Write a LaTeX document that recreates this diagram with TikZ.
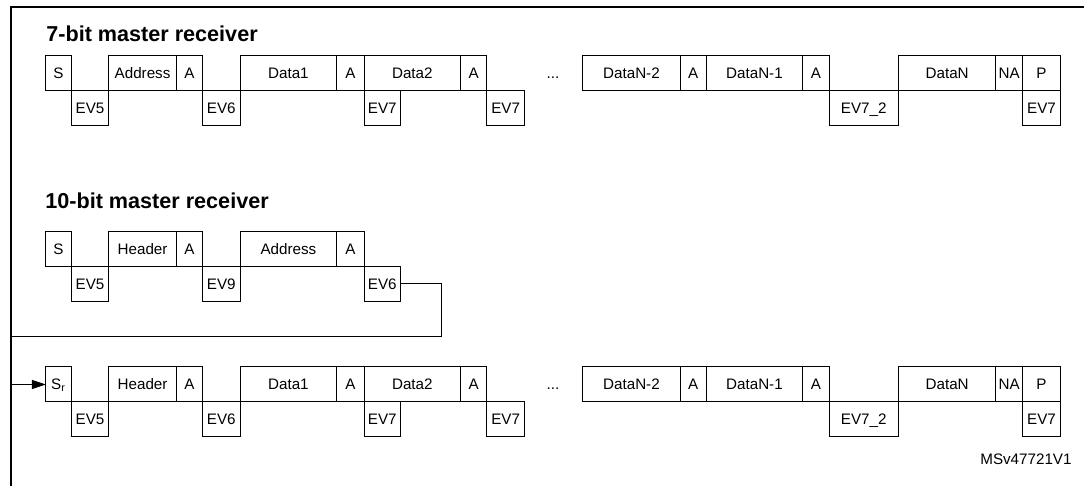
\documentclass[tikz,border=0pt]{standalone}
\usepackage{fontspec}
\setmainfont{Liberation Sans}
\usetikzlibrary{arrows.meta}
\tikzset{
  box/.style={draw=black, line width=0.5pt, inner sep=0pt, outer sep=0pt,
    minimum height=17.5pt, text height=5.4pt, text depth=0pt,
    font=\fontsize{7.6}{9}\selectfont},
  lbl/.style={inner sep=0pt, text height=5.4pt, text depth=0pt,
    font=\fontsize{7.6}{9}\selectfont},
  heading/.style={inner sep=0pt, anchor=base west,
    font=\fontsize{10.8}{12}\selectfont\bfseries},
  frame/.style={line width=1pt, line join=miter},
  conn/.style={line width=0.5pt},
}
\newcommand{\bx}[5]{\node[box, minimum width={(#3-#2)*0.5pt}, anchor=north west] (#1) at (#2,#4) {#5};}
\begin{document}
\begin{tikzpicture}[x=0.5pt, y=-0.5pt]
\useasboundingbox (0,0) rectangle (1084,486);
% frame
\draw[frame] (1084,7.5) -- (10.5,7.5) -- (10.5,486);

% ---------------- 7-bit master receiver ----------------
\node[heading] (t1) at (46,41.5) {7-bit master receiver};
\bx{a1s}{45.8}{71.3}{56}{S}
\bx{a1ev5}{71.3}{108.8}{91}{EV5}
\bx{a1addr}{108.8}{176.3}{56}{Address}
\bx{a1aa}{176.3}{202.5}{56}{A}
\bx{a1ev6}{202.5}{240}{91}{EV6}
\bx{a1d1}{240}{336.8}{56}{Data1}
\bx{a1ab}{336.8}{364}{56}{A}
\bx{a1d2}{364}{460.7}{56}{Data2}
\bx{a1ev7a}{364}{400.5}{91}{EV7}
\bx{a1ac}{460.7}{486.6}{56}{A}
\bx{a1ev7b}{486.6}{524.8}{91}{EV7}
\node[lbl] (a1dots) at (553,73.5) {...};
\bx{a1dn2}{582.7}{680.2}{56}{DataN-2}
\bx{a1ad}{680.2}{706.2}{56}{A}
\bx{a1dn1}{706.2}{802.7}{56}{DataN-1}
\bx{a1ae}{802.7}{829}{56}{A}
\bx{a1ev72}{829}{898.5}{91}{EV7\_2}
\bx{a1dn}{898.5}{995.8}{56}{DataN}
\bx{a1na}{995.8}{1022.5}{56}{NA}
\bx{a1p}{1022.5}{1060.5}{56}{P}
\bx{a1ev7c}{1022.5}{1060.5}{91}{EV7}

% ---------------- 10-bit master receiver ----------------
\node[heading] (t2) at (45,208.5) {10-bit master receiver};
\bx{b1s}{45.8}{71.3}{231.5}{S}
\bx{b1ev5}{71.3}{108.8}{266.5}{EV5}
\bx{b1hdr}{108.8}{176.3}{231.5}{Header}
\bx{b1aa}{176.3}{202.5}{231.5}{A}
\bx{b1ev9}{202.5}{240}{266.5}{EV9}
\bx{b1addr}{240}{336.8}{231.5}{Address}
\bx{b1ab}{336.8}{364}{231.5}{A}
\bx{b1ev6}{364}{400.5}{266.5}{EV6}

% second line (repeated start)
\bx{c1s}{45.8}{71.3}{367}{S\textsubscript{r}}
\bx{c1ev5}{71.3}{108.8}{402}{EV5}
\bx{c1hdr}{108.8}{176.3}{367}{Header}
\bx{c1aa}{176.3}{202.5}{367}{A}
\bx{c1ev6}{202.5}{240}{402}{EV6}
\bx{c1d1}{240}{336.8}{367}{Data1}
\bx{c1ab}{336.8}{364}{367}{A}
\bx{c1d2}{364}{460.7}{367}{Data2}
\bx{c1ev7a}{364}{400.5}{402}{EV7}
\bx{c1ac}{460.7}{486.6}{367}{A}
\bx{c1ev7b}{486.6}{524.8}{402}{EV7}
\node[lbl] (c1dots) at (553,384.5) {...};
\bx{c1dn2}{582.7}{680.2}{367}{DataN-2}
\bx{c1ad}{680.2}{706.2}{367}{A}
\bx{c1dn1}{706.2}{802.7}{367}{DataN-1}
\bx{c1ae}{802.7}{829}{367}{A}
\bx{c1ev72}{829}{898.5}{402}{EV7\_2}
\bx{c1dn}{898.5}{995.8}{367}{DataN}
\bx{c1na}{995.8}{1022.5}{367}{NA}
\bx{c1p}{1022.5}{1060.5}{367}{P}
\bx{c1ev7c}{1022.5}{1060.5}{402}{EV7}

% connector from EV6 to Sr
\coordinate (k1) at (441,284);
\coordinate (k2) at (441,337);
\coordinate (k3) at (10.5,337);
\coordinate (k4) at (10.5,384.5);
\draw[conn, -{Triangle[length=7pt,width=4.6pt]}]
  (b1ev6.east) -- (k1) -- (k2) -- (k3) -- (k4) -- (c1s.west);

\node[lbl, anchor=base east, text height=, text depth=] (ms) at (1072,465) {MSv47721V1};
\end{tikzpicture}
\end{document}
